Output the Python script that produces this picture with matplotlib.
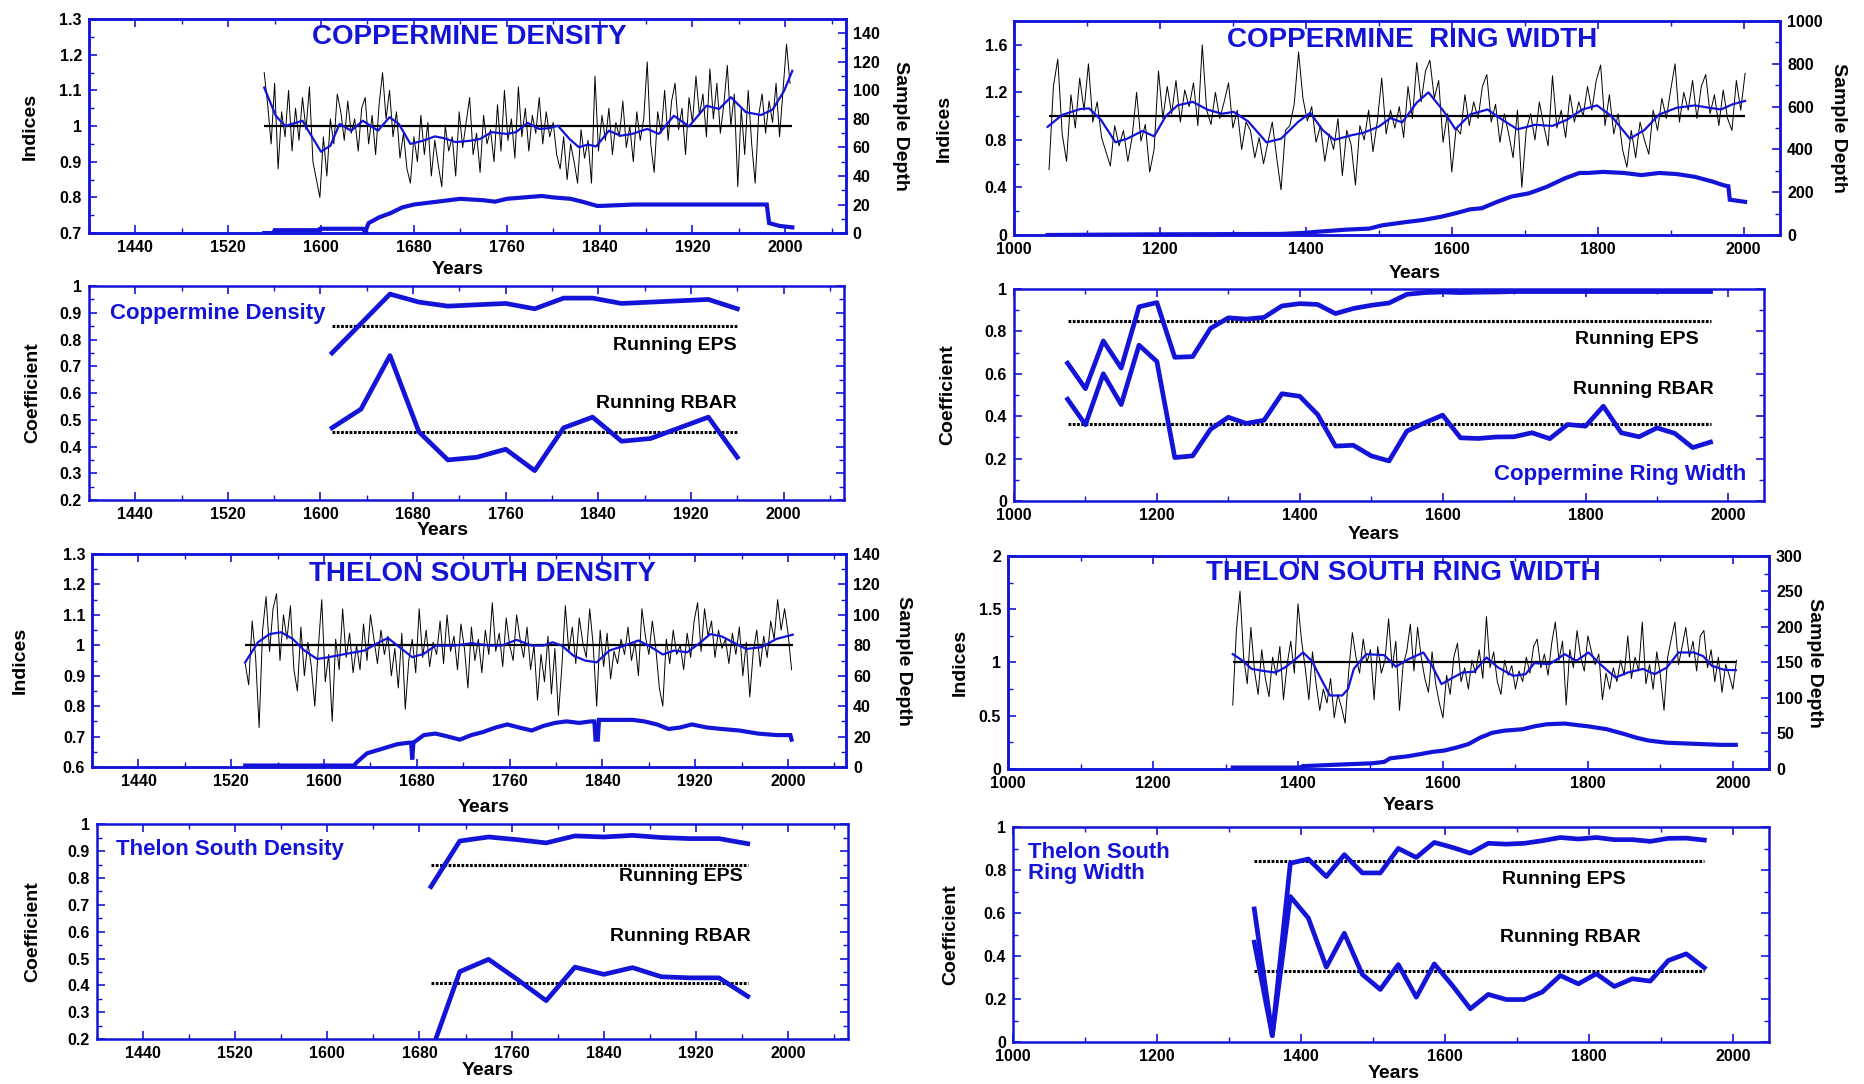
import numpy as np
import matplotlib
matplotlib.use("Agg")
import matplotlib.pyplot as plt
from matplotlib.ticker import MultipleLocator, AutoMinorLocator, FuncFormatter

BLUE = '#1414d8'
plt.rcParams['font.family'] = ['Liberation Sans Narrow', 'Liberation Sans', 'DejaVu Sans']
plt.rcParams['font.weight'] = 'bold'

# ---------------- Coppermine density (indices) ----------------
cd_start, cd_step = 1551, 3
cd_index = [1.15, 1.06, 0.95, 1.12, 0.88, 1.04, 0.97, 1.10, 0.93, 1.05,
            0.96, 1.08, 0.99, 1.11, 0.90, 0.85, 0.80, 0.97, 0.86, 1.02,
            0.95, 1.09, 1.04, 0.96, 1.07, 0.98, 1.02, 0.93, 1.05, 1.08,
            0.95, 1.03, 0.92, 1.06, 1.15, 1.02, 1.10, 0.97, 1.04, 0.91,
            0.98, 0.88, 0.84, 0.97, 0.90, 1.03, 0.92, 1.01, 0.86, 0.96,
            0.89, 0.83, 1.00, 0.93, 0.97, 0.86, 1.04, 0.94, 1.01, 1.08,
            0.92, 0.98, 0.87, 1.03, 0.95, 0.99, 0.90, 1.06, 0.93, 1.10,
            0.96, 1.02, 0.91, 1.11, 0.97, 1.05, 0.93, 1.03, 0.98, 1.08,
            0.95, 1.04, 0.97, 1.01, 0.92, 0.88, 0.97, 0.85, 0.95, 0.90,
            0.84, 0.99, 0.91, 0.96, 0.84, 1.14, 0.93, 1.03, 0.96, 1.05,
            0.92, 1.01, 0.97, 1.07, 0.94, 1.00, 0.90, 1.04, 0.96, 1.02,
            1.18, 0.95, 0.87, 1.04, 0.98, 1.10, 0.96, 1.07, 1.12, 0.99,
            1.05, 0.92, 1.08, 1.01, 1.14, 1.03, 1.09, 0.97, 1.16, 1.02,
            1.12, 0.98, 1.06, 1.17, 1.00, 1.09, 0.83, 1.05, 0.92, 1.10,
            0.95, 0.84, 1.03, 1.09, 0.98, 1.07, 1.01, 1.12, 0.97, 1.10,
            1.23, 1.12]
cd_smooth_years = [1551, 1561, 1569, 1584, 1589, 1600, 1608, 1616, 1626, 1636,
                   1649, 1659, 1667, 1677, 1688, 1698, 1706, 1716, 1729, 1737,
                   1747, 1760, 1768, 1778, 1788, 1796, 1804, 1814, 1822, 1830,
                   1837, 1848, 1858, 1868, 1881, 1891, 1904, 1917, 1932, 1943,
                   1953, 1966, 1979, 1989, 1999, 2006]
cd_smooth = [1.108, 1.029, 1.0, 1.015, 0.987, 0.928, 0.945, 1.006, 0.987, 1.015,
             0.987, 1.025, 1.006, 0.95, 0.959, 0.971, 0.966, 0.955, 0.959, 0.964,
             0.983, 0.978, 0.983, 1.009, 0.992, 0.994, 1.001, 0.964, 0.941, 0.948,
             0.943, 0.987, 0.973, 0.978, 0.992, 0.978, 1.029, 0.999, 1.057, 1.048,
             1.081, 1.039, 1.031, 1.046, 1.099, 1.155]
cd_depth_years = [1551, 1559, 1560, 1598, 1599, 1636, 1638, 1641, 1650, 1660, 1670, 1680,
                  1700, 1720, 1740, 1750, 1760, 1790, 1800, 1815, 1825, 1838, 1840,
                  1870, 1984, 1986, 1995, 2006]
cd_depth = [0, 0, 2, 2, 3, 3, 1, 7, 11, 14, 18, 20, 22, 24, 23, 22, 24, 26, 25, 24,
            22, 19, 19, 20, 20, 7, 5, 4]

# ---------------- Coppermine ring width (indices) ----------------
crw_start, crw_step = 1048, 6
crw_index = [0.55, 1.25, 1.48, 0.85, 0.62, 1.18, 0.90, 1.32, 1.05, 1.44,
             0.95, 1.12, 0.82, 0.70, 0.58, 0.92, 0.75, 0.88, 0.62, 0.83,
             1.20, 0.79, 0.93, 0.53, 0.72, 1.38, 0.98, 1.25, 1.02, 1.30,
             0.95, 1.22, 1.08, 1.28, 0.92, 1.60, 1.05, 0.93, 1.20, 0.98,
             1.12, 1.28, 0.90, 1.05, 0.72, 0.95, 0.88, 0.65, 0.82, 0.60,
             0.78, 0.95, 0.65, 0.38, 0.88, 0.92, 1.10, 1.54, 1.15, 0.96,
             1.08, 0.78, 0.92, 0.62, 0.85, 0.72, 0.98, 0.50, 0.88, 0.76,
             0.42, 0.92, 0.80, 1.05, 0.70, 0.96, 1.32, 0.85, 1.05, 0.90,
             1.08, 0.82, 1.25, 0.98, 1.45, 1.12, 1.38, 1.47, 1.15, 1.30,
             0.78, 1.02, 0.53, 0.90, 0.85, 1.18, 0.92, 1.12, 0.98, 1.25,
             1.35, 0.95, 1.10, 0.78, 1.02, 0.85, 0.65, 1.05, 0.40, 0.88,
             1.02, 0.80, 1.12, 0.92, 0.75, 1.34, 0.90, 1.05, 0.82, 1.18,
             0.95, 1.12, 1.00, 1.25, 1.05, 1.30, 1.43, 0.92, 1.18, 0.85,
             1.02, 0.72, 0.57, 0.88, 0.65, 0.95, 0.80, 0.68, 1.05, 0.88,
             1.15, 0.98, 1.22, 1.44, 0.95, 1.20, 1.05, 1.30, 0.98, 1.25,
             1.35, 1.02, 1.18, 0.92, 1.22, 0.98, 0.88, 1.30, 1.05, 1.36]
crw_smooth_years = [1046, 1066, 1091, 1103, 1119, 1139, 1155, 1176, 1192, 1208,
                    1224, 1245, 1265, 1285, 1301, 1321, 1346, 1366, 1390, 1406,
                    1423, 1439, 1463, 1479, 1500, 1516, 1532, 1552, 1568, 1589,
                    1605, 1625, 1649, 1669, 1690, 1714, 1738, 1758, 1779, 1799,
                    1819, 1844, 1864, 1884, 1908, 1933, 1953, 1969, 1985, 2002]
crw_smooth = [0.91, 1.01, 1.06, 1.065, 0.97, 0.78, 0.81, 0.875, 0.83, 1.0,
              1.09, 1.12, 1.055, 1.02, 1.036, 0.955, 0.78, 0.81, 0.955, 1.027,
              0.883, 0.80, 0.84, 0.86, 0.912, 0.984, 0.947, 1.114, 1.2, 1.04,
              0.889, 1.013, 1.056, 0.97, 0.889, 0.927, 0.918, 0.97, 1.056, 1.09,
              0.999, 0.81, 0.883, 1.013, 1.07, 1.09, 1.07, 1.056, 1.1, 1.128]
crw_depth_years = [1046, 1180, 1366, 1398, 1415, 1455, 1487, 1504, 1536, 1560, 1585,
                   1609, 1625, 1641, 1662, 1682, 1706, 1730, 1755, 1775, 1787, 1807,
                   1836, 1860, 1884, 1908, 1933, 1957, 1973, 1979, 1981, 2002]
crw_depth = [0, 3, 5, 10, 15, 25, 30, 45, 60, 70, 85, 105, 120, 125, 155, 180, 195,
             225, 265, 290, 290, 295, 290, 280, 290, 285, 272, 250, 232, 228, 165, 155]

# ---------------- Thelon South density (indices) ----------------
td_start, td_step = 1532, 3
td_index = [0.94, 0.87, 1.08, 0.96, 0.73, 1.05, 1.16, 0.98, 1.12, 1.17,
            0.95, 1.10, 1.02, 1.13, 0.92, 0.85, 1.06, 0.90, 1.01, 0.93,
            0.80, 0.99, 1.15, 0.88, 0.97, 0.75, 1.02, 0.92, 1.12, 0.96,
            1.04, 0.91, 1.00, 0.92, 1.07, 0.95, 1.10, 1.02, 0.94, 1.05,
            0.97, 1.03, 0.90, 0.99, 0.86, 1.04, 0.79, 0.95, 1.02, 0.91,
            1.12, 0.96, 1.05, 0.93, 1.01, 0.97, 1.08, 0.94, 1.10, 0.98,
            1.03, 0.92, 1.07, 0.99, 0.86, 1.06, 0.95, 1.02, 0.91, 1.05,
            0.97, 1.14, 0.98, 1.04, 0.93, 1.09, 1.00, 0.95, 1.10, 1.02,
            0.96, 1.06, 0.92, 1.00, 0.82, 0.97, 0.88, 1.03, 0.84, 0.99,
            0.77, 0.93, 1.13, 0.98, 1.06, 0.94, 1.09, 1.01, 0.96, 1.12,
            1.00, 0.80, 1.05, 0.93, 1.04, 0.89, 0.98, 0.94, 1.02, 0.97,
            1.06, 0.95, 1.01, 0.90, 1.12, 1.03, 0.97, 1.08, 0.99, 0.86,
            0.80, 1.02, 0.94, 1.05, 0.97, 1.00, 0.92, 1.04, 0.96, 1.08,
            1.14, 0.98, 1.12, 1.03, 1.08, 0.96, 1.05, 0.99, 1.02, 0.94,
            1.04, 0.97, 1.06, 0.90, 1.01, 0.83, 0.98, 1.05, 0.93, 1.03,
            0.96, 1.08, 1.02, 1.15, 1.05, 1.12, 1.04, 0.92]
td_smooth_years = [1532, 1543, 1553, 1563, 1573, 1583, 1594, 1604, 1619, 1635,
                   1645, 1655, 1665, 1676, 1686, 1696, 1712, 1727, 1743, 1753,
                   1766, 1779, 1789, 1797, 1805, 1815, 1825, 1835, 1846, 1859,
                   1871, 1882, 1892, 1902, 1913, 1923, 1933, 1943, 1954, 1964,
                   1977, 1990, 2004]
td_smooth = [0.944, 1.01, 1.037, 1.043, 1.021, 0.983, 0.955, 0.961, 0.972, 0.983,
             1.005, 1.024, 0.994, 0.961, 0.972, 0.999, 0.999, 1.007, 0.999, 0.999,
             1.018, 0.999, 0.999, 1.01, 0.999, 0.966, 0.95, 0.944, 0.983, 0.999,
             1.016, 0.994, 0.97, 0.983, 0.977, 1.005, 1.037, 1.029, 1.007, 0.988,
             0.994, 1.021, 1.035]
td_depth_years = [1532, 1626, 1628, 1637, 1650, 1663, 1673, 1675, 1676, 1677,
                  1686, 1696, 1707, 1717, 1727, 1737, 1748, 1758, 1768, 1779,
                  1789, 1799, 1809, 1820, 1830, 1833, 1834, 1836, 1837, 1850,
                  1866, 1876, 1887, 1897, 1907, 1917, 1930, 1943, 1958, 1974,
                  1990, 2002, 2003]
td_depth = [1, 1, 3, 9, 12, 15, 16, 16, 5, 16, 21, 22, 20, 18, 21, 23, 26, 28, 26, 24,
            27, 29, 30, 29, 30, 30, 18, 18, 31, 31, 31, 30, 28, 25, 26, 28, 26, 25, 24, 22,
            21, 21, 18]

# ---------------- Thelon South ring width (indices) ----------------
trw_start, trw_step = 1310, 5
trw_index = [0.60, 1.30, 1.67, 1.05, 0.80, 1.33, 0.92, 0.70, 1.12, 0.85,
             0.68, 1.05, 0.88, 1.15, 0.65, 0.98, 1.20, 0.90, 1.55, 1.20,
             0.95, 0.65, 1.10, 0.80, 0.55, 0.75, 0.62, 0.85, 0.48, 0.70,
             0.58, 0.43, 0.92, 1.28, 1.05, 0.90, 1.22, 1.00, 1.12, 0.65,
             1.15, 0.90, 1.02, 1.41, 0.95, 1.20, 0.55, 0.98, 1.10, 1.36,
             0.92, 1.33, 1.05, 0.85, 0.72, 1.10, 0.80, 0.62, 0.48, 0.88,
             0.70, 1.05, 1.18, 0.82, 0.95, 0.75, 1.02, 0.90, 1.12, 0.85,
             1.43, 0.95, 1.10, 0.82, 0.70, 1.02, 0.88, 0.97, 0.75, 0.92,
             0.82, 1.05, 0.90, 1.15, 1.22, 0.95, 1.08, 0.88, 1.18, 1.38,
             1.02, 1.20, 0.60, 1.12, 0.95, 1.30, 1.05, 0.92, 1.25, 1.10,
             0.98, 1.08, 0.65, 0.90, 0.75, 0.95, 0.82, 1.02, 0.88, 1.25,
             0.85, 1.05, 0.92, 1.38, 0.80, 0.98, 0.75, 1.10, 0.88, 0.55,
             1.05, 1.22, 1.38, 0.98, 1.15, 1.33, 1.05, 1.20, 0.92, 1.25,
             1.30, 0.95, 1.12, 0.82, 1.05, 0.72, 0.98, 0.88, 0.75, 1.02]
trw_smooth_years = [1310, 1324, 1336, 1353, 1369, 1382, 1394, 1407, 1419, 1432,
                    1444, 1461, 1469, 1477, 1494, 1519, 1535, 1552, 1573, 1585,
                    1598, 1610, 1627, 1643, 1660, 1676, 1697, 1714, 1726, 1747,
                    1768, 1784, 1801, 1817, 1838, 1855, 1876, 1892, 1909, 1925,
                    1946, 1959, 1971, 1988, 2004]
trw_smooth = [1.078, 1.016, 0.94, 0.92, 0.906, 0.953, 1.016, 1.094, 1.016, 0.844,
              0.69, 0.69, 0.75, 0.94, 1.078, 1.069, 0.96, 1.03, 1.094, 0.969,
              0.797, 0.844, 0.906, 0.913, 1.047, 0.953, 0.875, 0.89, 0.994, 0.984,
              1.078, 1.016, 1.094, 0.984, 0.859, 0.906, 0.94, 0.89, 0.953, 1.094,
              1.094, 1.06, 0.969, 0.931, 0.928]
trw_depth_years = [1310, 1402, 1407, 1452, 1502, 1519, 1527, 1552, 1569, 1585,
                   1602, 1618, 1635, 1651, 1668, 1685, 1710, 1726, 1743, 1768,
                   1784, 1801, 1826, 1851, 1867, 1884, 1909, 1934, 1959, 1983, 2004]
trw_depth = [2, 2, 4, 6, 8, 10, 15, 18, 21, 24, 26, 30, 35, 44, 51, 54, 56, 60, 63, 64,
             62, 60, 56, 49, 44, 40, 37, 36, 35, 34, 34]

# ---------------- Running EPS / RBAR ----------------
cd_win_years = [1610, 1635, 1660, 1685, 1710, 1735, 1760, 1785, 1810, 1835, 1860, 1885, 1910, 1935, 1960]
cd_eps = [0.75, 0.86, 0.97, 0.94, 0.925, 0.93, 0.935, 0.915, 0.955, 0.955, 0.935, 0.94, 0.945, 0.95, 0.915]
cd_rbar = [0.47, 0.54, 0.74, 0.455, 0.35, 0.36, 0.39, 0.31, 0.47, 0.51, 0.42, 0.43, 0.47, 0.51, 0.36]
cd_eps_thr, cd_rbar_thr = 0.85, 0.455

crw_win_years = [1075, 1100, 1125, 1150, 1175, 1200, 1225, 1250, 1275, 1300, 1325, 1350, 1375,
                 1400, 1425, 1450, 1475, 1500, 1525, 1550, 1575, 1600, 1625, 1650, 1675, 1700,
                 1725, 1750, 1775, 1800, 1825, 1850, 1875, 1900, 1925, 1950, 1975]
crw_eps = [0.65, 0.53, 0.755, 0.627, 0.916, 0.936, 0.678, 0.681, 0.814, 0.864, 0.858, 0.866, 0.92,
           0.931, 0.927, 0.884, 0.908, 0.923, 0.934, 0.975, 0.983, 0.986, 0.983, 0.985, 0.986, 0.988,
           0.988, 0.988, 0.988, 0.988, 0.988, 0.988, 0.988, 0.988, 0.988, 0.988, 0.988]
crw_rbar = [0.48, 0.36, 0.60, 0.455, 0.735, 0.658, 0.205, 0.213, 0.338, 0.395, 0.366, 0.381, 0.506,
            0.494, 0.408, 0.259, 0.263, 0.213, 0.189, 0.33, 0.369, 0.405, 0.298, 0.295, 0.302, 0.303,
            0.322, 0.294, 0.361, 0.353, 0.447, 0.322, 0.303, 0.345, 0.319, 0.252, 0.278]
crw_eps_thr, crw_rbar_thr = 0.85, 0.365

td_win_years = [1690, 1715, 1740, 1765, 1790, 1815, 1840, 1865, 1890, 1915, 1940, 1965]
td_eps = [0.768, 0.938, 0.953, 0.943, 0.931, 0.957, 0.953, 0.959, 0.951, 0.947, 0.947, 0.928]
td_rbar = [0.15, 0.451, 0.497, 0.422, 0.343, 0.468, 0.441, 0.466, 0.432, 0.428, 0.428, 0.359]
td_eps_thr, td_rbar_thr = 0.85, 0.407

trw_win_years = [1335, 1360, 1385, 1410, 1435, 1460, 1485, 1510, 1535, 1560, 1585, 1610, 1635,
                 1660, 1685, 1710, 1735, 1760, 1785, 1810, 1835, 1860, 1885, 1910, 1935, 1960]
trw_eps = [0.62, 0.03, 0.833, 0.853, 0.771, 0.873, 0.788, 0.788, 0.902, 0.86, 0.93, 0.907, 0.88,
           0.926, 0.922, 0.926, 0.938, 0.953, 0.946, 0.953, 0.943, 0.943, 0.935, 0.949, 0.95, 0.941]
trw_rbar = [0.465, 0.03, 0.678, 0.578, 0.349, 0.507, 0.315, 0.245, 0.361, 0.209, 0.364, 0.264, 0.155,
            0.222, 0.198, 0.198, 0.233, 0.31, 0.271, 0.318, 0.259, 0.295, 0.284, 0.38, 0.411, 0.346]
trw_eps_thr, trw_rbar_thr = 0.845, 0.33


def fmt(v, pos):
    return '%g' % round(v, 3)


def style(ax, xlim, xstep, ylim, ystep, right=True):
    ax.set_xlim(*xlim)
    ax.set_ylim(*ylim)
    ax.xaxis.set_major_locator(MultipleLocator(xstep))
    ax.xaxis.set_minor_locator(AutoMinorLocator(2))
    ax.yaxis.set_major_locator(MultipleLocator(ystep))
    ax.yaxis.set_minor_locator(AutoMinorLocator(2))
    ax.yaxis.set_major_formatter(FuncFormatter(fmt))
    ax.tick_params(which='both', direction='in', color=BLUE, top=True, right=right,
                   labelsize=11.5, pad=5)
    ax.tick_params(which='major', length=6, width=1.2)
    ax.tick_params(which='minor', length=3.5, width=1)
    for s in ax.spines.values():
        s.set_color(BLUE)
        s.set_linewidth(1.8)
    for lab in ax.get_xticklabels() + ax.get_yticklabels():
        lab.set_fontweight('bold')


def axis_texts(ax, ylab, ylab_x, years_xy):
    ax.text(ylab_x, 0.5, ylab, rotation=90, transform=ax.transAxes, ha='center',
            va='center', fontsize=14, fontweight='bold')
    ax.text(years_xy[0], years_xy[1], 'Years', transform=ax.transAxes, ha='center',
            va='center', fontsize=14, fontweight='bold')


def index_panel(rect, title, title_xy, start, step, vals, sm_years, sm_vals,
                d_years, d_vals, xlim, xstep, ylim, ystep, dlim, dstep, dmax_tick,
                ylab_x, depth_x, years_xy):
    ax = fig.add_axes(rect)
    yrs = np.arange(start, start + step * len(vals), step)
    ax.plot(yrs, vals, color='black', lw=0.7, zorder=2)
    ax.hlines(1.0, yrs[0], sm_years[-1], color='black', lw=1.6, zorder=3)
    ax.plot(sm_years, sm_vals, color=BLUE, lw=1.6, zorder=4)
    style(ax, xlim, xstep, ylim, ystep, right=False)
    ax.text(title_xy[0], title_xy[1], title, transform=ax.transAxes, ha='center',
            va='center', color=BLUE, fontsize=20, fontweight='bold')
    axis_texts(ax, 'Indices', ylab_x, years_xy)
    tw = ax.twinx()
    tw.plot(d_years, d_vals, color=BLUE, lw=3, solid_joinstyle='miter')
    tw.set_ylim(*dlim)
    tw.set_yticks(np.arange(0, dmax_tick + 1, dstep))
    tw.yaxis.set_minor_locator(AutoMinorLocator(2))
    tw.tick_params(which='both', direction='in', color=BLUE, labelsize=11.5, pad=5)
    tw.tick_params(which='major', length=6, width=1.2)
    tw.tick_params(which='minor', length=3.5, width=1)
    for lab in tw.get_yticklabels():
        lab.set_fontweight('bold')
    for s in tw.spines.values():
        s.set_color(BLUE)
        s.set_linewidth(1.8)
    tw.text(depth_x, 0.5, 'Sample Depth', rotation=-90, transform=tw.transAxes,
            ha='center', va='center', fontsize=14, fontweight='bold')
    return ax


def coef_panel(rect, win_years, eps, rbar, eps_thr, rbar_thr, xlim, xstep, ylim, ystep,
               name, name_xy, name_ha, eps_xy, rbar_xy, ylab_x, years_xy):
    ax = fig.add_axes(rect)
    ax.hlines([eps_thr, rbar_thr], win_years[0], win_years[-1], color='black', lw=2.2,
              linestyles=[(0, (0.9, 0.5))], zorder=2)
    ax.plot(win_years, eps, color=BLUE, lw=3.4, zorder=3)
    ax.plot(win_years, rbar, color=BLUE, lw=3.4, zorder=3)
    style(ax, xlim, xstep, ylim, ystep)
    ax.text(name_xy[0], name_xy[1], name, transform=ax.transAxes, ha=name_ha, va='top',
            color=BLUE, fontsize=16, fontweight='bold', linespacing=1.0)
    ax.text(eps_xy[0], eps_xy[1], 'Running EPS', transform=ax.transAxes, ha='right',
            va='center', fontsize=14, fontweight='bold')
    ax.text(rbar_xy[0], rbar_xy[1], 'Running RBAR', transform=ax.transAxes, ha='right',
            va='center', fontsize=14, fontweight='bold')
    axis_texts(ax, 'Coefficient', ylab_x, years_xy)
    return ax


fig = plt.figure(figsize=(18.64, 10.84), dpi=100)

index_panel([0.0477, 0.785, 0.406, 0.1974], 'COPPERMINE DENSITY', (0.503, 0.915),
            cd_start, cd_step, cd_index, cd_smooth_years, cd_smooth,
            cd_depth_years, cd_depth, (1400, 2052), 80, (0.7, 1.3), 0.1,
            (0, 150), 20, 140, -0.078, 1.072, (0.487, -0.168))

index_panel([0.544, 0.7832, 0.411, 0.1974], 'COPPERMINE  RING WIDTH', (0.52, 0.91),
            crw_start, crw_step, crw_index, crw_smooth_years, crw_smooth,
            crw_depth_years, crw_depth, (1000, 2050), 200, (0, 1.8), 0.4,
            (0, 1000), 200, 1000, -0.091, 1.076, (0.523, -0.178))

index_panel([0.0494, 0.2924, 0.4045, 0.1965], 'THELON SOUTH DENSITY', (0.518, 0.906),
            td_start, td_step, td_index, td_smooth_years, td_smooth,
            td_depth_years, td_depth, (1400, 2050), 80, (0.6, 1.3), 0.1,
            (0, 140), 20, 140, -0.095, 1.076, (0.52, -0.192))

index_panel([0.5408, 0.2906, 0.4083, 0.1965], 'THELON SOUTH RING WIDTH', (0.52, 0.92),
            trw_start, trw_step, trw_index, trw_smooth_years, trw_smooth,
            trw_depth_years, trw_depth, (1000, 2050), 200, (0, 2), 0.5,
            (0, 300), 50, 300, -0.063, 1.06, (0.527, -0.173))

coef_panel([0.0477, 0.5387, 0.405, 0.1974], cd_win_years, cd_eps, cd_rbar,
           cd_eps_thr, cd_rbar_thr, (1400, 2052), 80, (0.2, 1.0), 0.1,
           'Coppermine Density', (0.028, 0.92), 'left', (0.858, 0.72), (0.858, 0.45),
           -0.075, (0.468, -0.14))

coef_panel([0.544, 0.5378, 0.4024, 0.1956], crw_win_years, crw_eps, crw_rbar,
           crw_eps_thr, crw_rbar_thr, (1000, 2050), 200, (0, 1.0), 0.2,
           'Coppermine Ring Width', (0.976, 0.175), 'right', (0.913, 0.76), (0.933, 0.527),
           -0.089, (0.479, -0.16))

coef_panel([0.052, 0.0415, 0.4029, 0.198], td_win_years, td_eps, td_rbar,
           td_eps_thr, td_rbar_thr, (1400, 2052), 80, (0.2, 1.0), 0.1,
           'Thelon South Density', (0.025, 0.93), 'left', (0.86, 0.755), (0.87, 0.477),
           -0.085, (0.52, -0.149))

coef_panel([0.5435, 0.0387, 0.4056, 0.198], trw_win_years, trw_eps, trw_rbar,
           trw_eps_thr, trw_rbar_thr, (1000, 2050), 200, (0, 1.0), 0.2,
           'Thelon South\nRing Width', (0.02, 0.93), 'left', (0.81, 0.756), (0.83, 0.486),
           -0.082, (0.503, -0.145))

fig.savefig('out.png', dpi=100)
